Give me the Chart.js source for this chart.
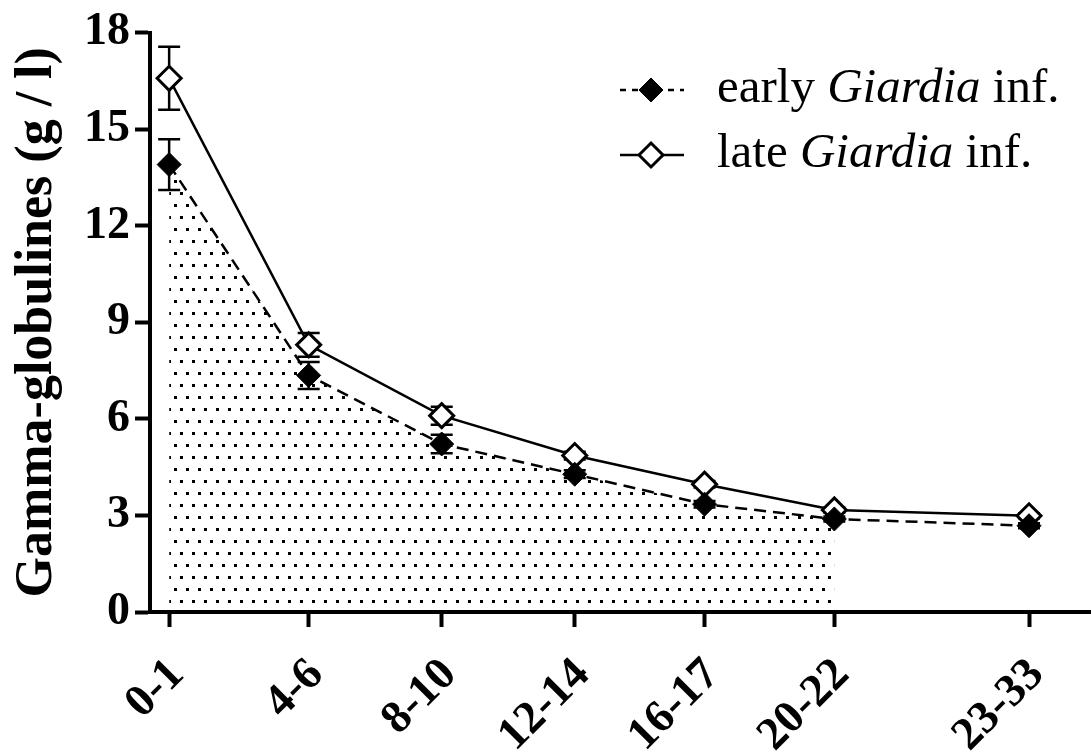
<!DOCTYPE html>
<html>
<head>
<meta charset="utf-8">
<script src="https://cdn.jsdelivr.net/npm/chart.js@4.4.1/dist/chart.umd.min.js"></script>
<style>
  html, body { margin: 0; padding: 0; background: #fff; }
  #wrap { width: 1091px; height: 751px; }
</style>
</head>
<body>
<div id="wrap"><canvas id="myChart" width="1091" height="751"></canvas></div>
<script>
// grupos de edad (meses) y su posicion en el eje
const ageLabels = ['0-1', '4-6', '8-10', '12-14', '16-17', '20-22', '23-33'];
const ageX = [0.5, 4.8, 8.9, 13, 17, 21, 27];

// gamma-globulinas medias (g/l) y error estandar
const earlyMean = [13.9, 7.35, 5.22, 4.28, 3.35, 2.89, 2.68];
const earlyErr = [0.79, 0.42, 0.29, 0.12, 0.1, 0.08, 0.08];
const lateMean = [16.58, 8.3, 6.1, 4.86, 3.97, 3.17, 2.99];
const lateErr = [0.98, 0.37, 0.28, 0.12, 0.1, 0.08, 0.08];

// el sombreado punteado solo llega hasta 20-22
const fillUntil = 6;

const serif = "'Liberation Serif', 'Times New Roman', serif";

function puntos(xs, ys) {
    return xs.map((x, i) => ({ x: x, y: ys[i] }));
}

// patron de puntitos al tresbolillo
function patronPuntos() {
    const c = document.createElement('canvas');
    c.width = 12;
    c.height = 24;
    const g = c.getContext('2d');
    g.fillStyle = '#000';
    g.fillRect(0, 0, 3, 3);
    g.fillRect(6, 12, 3, 3);
    return g.createPattern(c, 'repeat');
}

function diamante(ctx, x, y, r) {
    ctx.beginPath();
    ctx.moveTo(x - r, y);
    ctx.lineTo(x, y - r);
    ctx.lineTo(x + r, y);
    ctx.lineTo(x, y + r);
    ctx.closePath();
}

// barras de error (media +/- error)
const barrasError = {
    id: 'barrasError',
    beforeDatasetsDraw(chart) {
        const ctx = chart.ctx;
        const yScale = chart.scales.y;
        chart.data.datasets.forEach((ds, i) => {
            if (!ds.errores) return;
            const meta = chart.getDatasetMeta(i);
            ctx.save();
            ctx.strokeStyle = '#000';
            ctx.lineWidth = 2.5;
            meta.data.forEach((p, j) => {
                const v = ds.data[j].y;
                const top = yScale.getPixelForValue(v + ds.errores[j]);
                const bot = yScale.getPixelForValue(v - ds.errores[j]);
                ctx.beginPath();
                ctx.moveTo(p.x, top);
                ctx.lineTo(p.x, bot);
                ctx.moveTo(p.x - 11, top);
                ctx.lineTo(p.x + 11, top);
                ctx.moveTo(p.x - 11, bot);
                ctx.lineTo(p.x + 11, bot);
                ctx.stroke();
            });
            ctx.restore();
        });
    }
};

// leyenda a mano para poder poner Giardia en cursiva
const leyenda = {
    id: 'leyenda',
    afterDraw(chart) {
        const ctx = chart.ctx;
        const filas = [0, 1];
        filas.forEach((idx, k) => {
            const ds = chart.data.datasets[idx];
            const y = 90 + k * 65;
            ctx.save();
            ctx.strokeStyle = '#000';
            ctx.lineWidth = 2.5;
            ctx.setLineDash(ds.borderDash ? [6, 6] : []);
            ctx.beginPath();
            ctx.moveTo(620, y);
            ctx.lineTo(684, y);
            ctx.stroke();
            ctx.setLineDash([]);
            diamante(ctx, 651, y, 12);
            ctx.fillStyle = ds.pointBackgroundColor;
            ctx.fill();
            ctx.lineWidth = ds.pointBorderWidth;
            ctx.strokeStyle = ds.pointBorderColor;
            ctx.stroke();

            // texto en tres trozos: normal, cursiva, normal
            const partes = ds.label.split('Giardia');
            const trozos = [[partes[0], ''], ['Giardia', 'italic '], [partes[1], '']];
            let x = 717;
            ctx.fillStyle = '#000';
            ctx.textBaseline = 'alphabetic';
            ctx.textAlign = 'left';
            trozos.forEach(t => {
                ctx.font = t[1] + '49px ' + serif;
                ctx.fillText(t[0], x, y + 12);
                x += ctx.measureText(t[0]).width;
            });
            ctx.restore();
        });
    }
};

const data = {
    datasets: [{
        label: 'early Giardia inf.',
        data: puntos(ageX, earlyMean),
        errores: earlyErr,
        borderColor: '#000',
        borderWidth: 2.5,
        borderDash: [12, 7],
        pointStyle: 'rectRot',
        pointRadius: 12,
        pointHoverRadius: 12,
        pointBackgroundColor: '#000',
        pointBorderColor: '#000',
        pointBorderWidth: 1,
        fill: false,
        order: 0
    }, {
        label: 'late Giardia inf.',
        data: puntos(ageX, lateMean),
        errores: lateErr,
        borderColor: '#000',
        borderWidth: 2.5,
        pointStyle: 'rectRot',
        pointRadius: 12,
        pointHoverRadius: 12,
        pointBackgroundColor: '#fff',
        pointBorderColor: '#000',
        pointBorderWidth: 3,
        fill: false,
        order: 1
    }, {
        label: 'sombreado',
        data: puntos(ageX.slice(0, fillUntil), earlyMean.slice(0, fillUntil)),
        borderWidth: 0,
        borderColor: 'rgba(0,0,0,0)',
        pointRadius: 0,
        backgroundColor: patronPuntos(),
        fill: 'origin',
        order: 2
    }]
};

const config = {
    type: 'line',
    data: data,
    plugins: [barrasError, leyenda],
    options: {
        responsive: false,
        animation: false,
        layout: {
            autoPadding: false,
            padding: { top: 28, right: 0, left: 0, bottom: 0 }
        },
        plugins: {
            legend: { display: false },
            tooltip: { enabled: false }
        },
        elements: { line: { tension: 0 } },
        scales: {
            x: {
                type: 'linear',
                min: -0.09,
                max: 28.91,
                afterBuildTicks: (scale) => {
                    scale.ticks = ageX.map(v => ({ value: v }));
                },
                afterFit: (scale) => {
                    scale.height = 139;
                    scale.paddingLeft = 0;
                    scale.paddingRight = 0;
                },
                ticks: {
                    autoSkip: false,
                    minRotation: 45,
                    maxRotation: 45,
                    padding: 21,
                    labelOffset: 8,
                    color: '#000',
                    font: { family: serif, size: 46, weight: 'bold' },
                    callback: (v, i) => ageLabels[i]
                },
                grid: {
                    drawOnChartArea: false,
                    drawTicks: true,
                    tickLength: 15,
                    tickWidth: 4,
                    tickColor: '#000'
                },
                border: { display: true, width: 4, color: '#000' }
            },
            y: {
                min: 0,
                max: 18,
                afterFit: (scale) => { scale.width = 150; },
                ticks: {
                    stepSize: 3,
                    padding: 5,
                    color: '#000',
                    font: { family: serif, size: 46, weight: 'bold' }
                },
                title: {
                    display: true,
                    text: 'Gamma-globulines (g / l)',
                    color: '#000',
                    font: { family: serif, size: 52, weight: 'bold' },
                    padding: { top: 6, bottom: 0 }
                },
                grid: {
                    drawOnChartArea: false,
                    drawTicks: true,
                    tickLength: 15,
                    tickWidth: 4,
                    tickColor: '#000'
                },
                border: { display: true, width: 4, color: '#000' }
            }
        }
    }
};

const myChart = new Chart(document.getElementById('myChart'), config);
</script>
</body>
</html>
